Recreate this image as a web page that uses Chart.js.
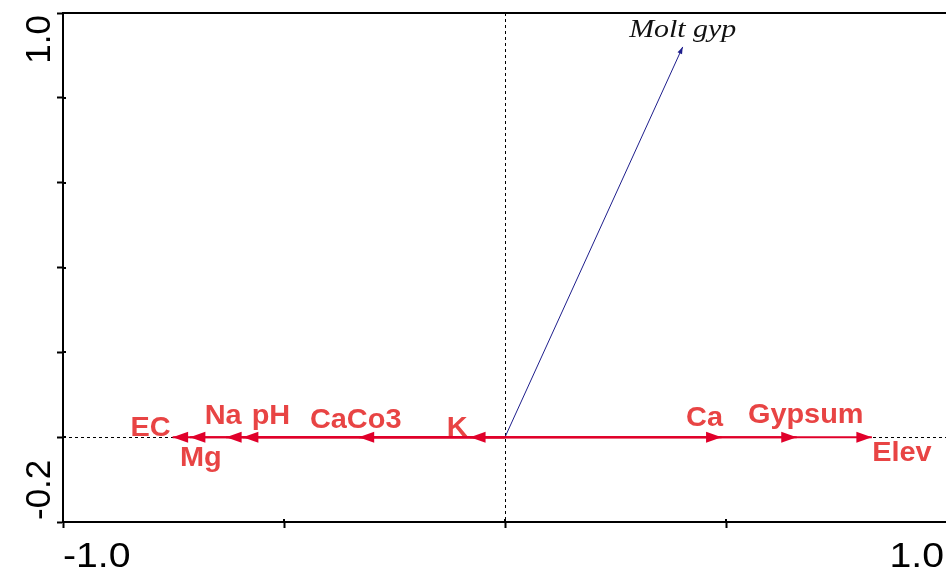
<!DOCTYPE html>
<html>
<head>
<meta charset="utf-8">
<script src="https://cdn.jsdelivr.net/npm/chart.js@4/dist/chart.umd.min.js"></script>
<style>
    html, body { margin: 0; padding: 0; background: #fff; overflow: hidden; }
    #wrap { width: 948px; height: 571px; position: relative; }
</style>
</head>
<body>
<div id="wrap"><canvas id="chartBiplot"></canvas></div>
<script>
'use strict';

// environmental variables (axis 1 / axis 2 scores)
const variables = ['EC', 'Mg', 'Na', 'pH', 'CaCo3', 'K', 'Ca', 'Gypsum', 'Elev'];
const axis1 = [-0.752, -0.713, -0.631, -0.593, -0.331, -0.079, 0.490, 0.660, 0.830];
const axis2 = [0, 0, 0, 0, 0, 0, 0, 0, 0];

// supplementary variable
const suppNames = ['Molt gyp'];
const suppAxis1 = [0.402];
const suppAxis2 = [0.92];

// tick labels shown on the frame
const xTickLabels = ['-1.0', '1.0'];
const yTickLabels = ['-0.2', '1.0'];

// label placement relative to arrow tip (pixels)
const labelShift = [[-22, -1], [11, 29], [-3, -13], [28, -13], [-3, -9], [-13, -1], [-17, -11], [9, -14], [30, 24]];
const suppShift = [[0, -10]];

const RED = '#e0002a';
const LABEL_RED = '#e84444';
const NAVY = '#1e1e8c';

function drawText(ctx, txt, x, y, font, color, stretch, align) {
    ctx.save();
    ctx.translate(x, y);
    ctx.scale(stretch, 1);
    ctx.font = font;
    ctx.fillStyle = color;
    ctx.textAlign = align || 'center';
    ctx.textBaseline = 'alphabetic';
    ctx.fillText(txt, 0, 0);
    ctx.restore();
}

function arrowHead(ctx, p0, p1, len, half, color) {
    let a = Math.atan2(p1.y - p0.y, p1.x - p0.x);
    ctx.save();
    ctx.translate(p1.x, p1.y);
    ctx.rotate(a);
    ctx.beginPath();
    ctx.moveTo(0, 0);
    ctx.lineTo(-len, -half);
    ctx.lineTo(-len, half);
    ctx.closePath();
    ctx.fillStyle = color;
    ctx.fill();
    ctx.restore();
}

const biplotPlugin = {
    id: 'biplot',
    beforeDatasetsDraw(chart) {
        const { ctx, chartArea, scales } = chart;
        let x0 = scales.x.getPixelForValue(0);
        let y0 = scales.y.getPixelForValue(0);
        ctx.save();
        ctx.strokeStyle = '#000';
        ctx.lineWidth = 1;
        ctx.setLineDash([3, 3]);
        ctx.beginPath();
        ctx.moveTo(Math.round(x0) + 0.5, chartArea.top);
        ctx.lineTo(Math.round(x0) + 0.5, chartArea.bottom);
        ctx.moveTo(chartArea.left, Math.round(y0) + 0.5);
        ctx.lineTo(chartArea.right, Math.round(y0) + 0.5);
        ctx.stroke();
        ctx.restore();
    },
    afterDatasetsDraw(chart) {
        const { ctx, chartArea, scales } = chart;

        // arrow heads and labels
        chart.data.datasets.forEach((ds, i) => {
            let meta = chart.getDatasetMeta(i);
            let p0 = meta.data[0], p1 = meta.data[1];
            if (ds.kind === 'env') {
                arrowHead(ctx, p0, p1, 15.5, 5.5, RED);
                let s = labelShift[ds.idx];
                drawText(ctx, variables[ds.idx], p1.x + s[0], p1.y + s[1], 'bold 27px "Liberation Sans", Arial, sans-serif', LABEL_RED, 1.07);
            } else {
                arrowHead(ctx, p0, p1, 7, 2.5, NAVY);
                let s = suppShift[ds.idx];
                drawText(ctx, suppNames[ds.idx], p1.x + s[0], p1.y + s[1], 'italic 26px "Liberation Serif", "Times New Roman", serif', '#111', 1.15);
            }
        });

        // frame top line and inward part of the tick marks
        ctx.save();
        ctx.strokeStyle = '#000';
        ctx.lineWidth = 2;
        ctx.beginPath();
        ctx.moveTo(chartArea.left - 1, chartArea.top);
        ctx.lineTo(chartArea.right, chartArea.top);
        scales.x.ticks.forEach(t => {
            let px = Math.round(scales.x.getPixelForValue(t.value));
            ctx.moveTo(px, chartArea.bottom);
            ctx.lineTo(px, chartArea.bottom - 3);
        });
        scales.y.ticks.forEach(t => {
            let py = Math.round(scales.y.getPixelForValue(t.value));
            ctx.moveTo(chartArea.left, py);
            ctx.lineTo(chartArea.left + 3, py);
        });
        ctx.stroke();
        ctx.restore();

        // tick labels, inner aligned
        const tickFont = '35px "Liberation Sans", Arial, sans-serif';
        let xl = scales.x.getPixelForValue(parseFloat(xTickLabels[0]));
        let xr = scales.x.getPixelForValue(parseFloat(xTickLabels[1]));
        drawText(ctx, xTickLabels[0], xl, 567, tickFont, '#000', 1.12, 'left');
        drawText(ctx, xTickLabels[1], Math.min(xr, chart.width - 4), 567, tickFont, '#000', 1.12, 'right');

        let yb = scales.y.getPixelForValue(parseFloat(yTickLabels[0]));
        let yt = scales.y.getPixelForValue(parseFloat(yTickLabels[1]));
        ctx.save();
        ctx.font = tickFont;
        ctx.fillStyle = '#000';
        ctx.textBaseline = 'alphabetic';
        ctx.translate(50, yb - 2);
        ctx.rotate(-Math.PI / 2);
        ctx.textAlign = 'left';
        ctx.fillText(yTickLabels[0], 0, 0);
        ctx.restore();
        ctx.save();
        ctx.font = tickFont;
        ctx.fillStyle = '#000';
        ctx.textBaseline = 'alphabetic';
        ctx.translate(50, yt + 2);
        ctx.rotate(-Math.PI / 2);
        ctx.textAlign = 'right';
        ctx.fillText(yTickLabels[1], 0, 0);
        ctx.restore();
    }
};

let datasets = [];
for (let i = 0; i < variables.length; i++) {
    datasets.push({
        kind: 'env',
        idx: i,
        data: [{ x: 0, y: 0 }, { x: axis1[i], y: axis2[i] }],
        showLine: true,
        borderColor: RED,
        borderWidth: 2,
        pointRadius: 0
    });
}
for (let i = 0; i < suppNames.length; i++) {
    datasets.push({
        kind: 'supp',
        idx: i,
        data: [{ x: 0, y: 0 }, { x: suppAxis1[i], y: suppAxis2[i] }],
        showLine: true,
        borderColor: NAVY,
        borderWidth: 1,
        pointRadius: 0
    });
}

const axisBorder = { display: true, color: '#000', width: 2 };

new Chart(document.getElementById('chartBiplot'), {
    type: 'scatter',
    data: { datasets: datasets },
    options: {
        responsive: true,
        maintainAspectRatio: false,
        animation: false,
        events: [],
        layout: { padding: { left: 57, top: 13, right: 1, bottom: 43 } },
        plugins: { legend: { display: false }, tooltip: { enabled: false } },
        scales: {
            x: {
                type: 'linear',
                min: -1,
                max: 1,
                ticks: { display: false, stepSize: 0.5 },
                grid: { drawOnChartArea: false, tickLength: 6, tickColor: '#000', tickWidth: 2 },
                border: axisBorder
            },
            y: {
                type: 'linear',
                min: -0.2,
                max: 1.0,
                ticks: { display: false, stepSize: 0.2 },
                grid: { drawOnChartArea: false, tickLength: 6, tickColor: '#000', tickWidth: 2 },
                border: axisBorder
            }
        }
    },
    plugins: [biplotPlugin]
});
</script>
</body>
</html>
